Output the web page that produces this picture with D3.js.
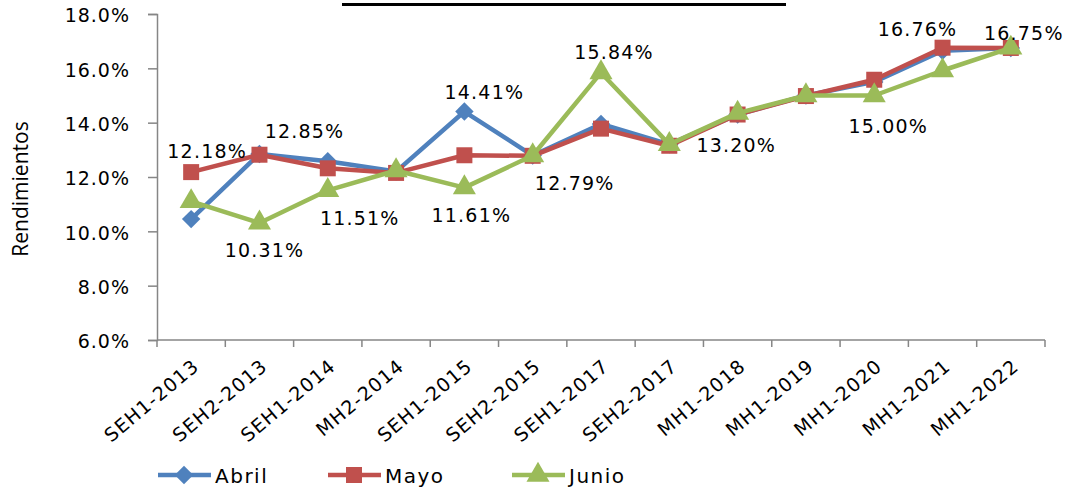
<!DOCTYPE html>
<html>
<head>
<meta charset="utf-8">
<script src="https://cdn.jsdelivr.net/npm/d3@7"></script>
<style>
  body { margin: 0; background: #fff; }
  text { font-family: "DejaVu Sans", Verdana, sans-serif; fill: #000; }
</style>
</head>
<body>
<div id="chart"></div>
<script>
// categories and series
var categories = ["SEH1-2013", "SEH2-2013", "SEH1-2014", "MH2-2014", "SEH1-2015", "SEH2-2015",
    "SEH1-2017", "SEH2-2017", "MH1-2018", "MH1-2019", "MH1-2020", "MH1-2021", "MH1-2022"];
var abril = [10.45, 12.85, 12.58, 12.2, 14.41, 12.79, 13.95, 13.2, 14.3, 15.0, 15.5, 16.65, 16.75];
var mayo  = [12.18, 12.82, 12.32, 12.15, 12.8, 12.78, 13.78, 13.15, 14.3, 14.98, 15.58, 16.76, 16.75];
var junio = [11.1, 10.31, 11.51, 12.24, 11.61, 12.79, 15.84, 13.2, 14.35, 15.0, 15.0, 15.92, 16.75];
var seriesNames = ["Abril", "Mayo", "Junio"];
var yTicks = [6, 8, 10, 12, 14, 16, 18];

// data labels: [series, category index]
var labelPoints = [[1, 0], [0, 1], [2, 1], [2, 2], [2, 4], [0, 4], [2, 5], [2, 6], [2, 7], [2, 10], [1, 11], [2, 12]];
// label offsets from the point (dx, dy)
var labelOffsets = [[16, -21], [45, -23], [5, 27], [32, 27], [7, 27], [20, -20], [42, 27], [13, -21], [67, 0], [14, 30], [-25, -19], [13, -15]];

var colors = ["#4F81BD", "#C0504D", "#9BBB59"];
var seriesData = [abril, mayo, junio];

var width = 1068, height = 490;
var margin = { top: 14, right: 23, bottom: 150, left: 157 };
var w = width - margin.left - margin.right,
    h = height - margin.top - margin.bottom;

var svg = d3.select("#chart").append("svg")
    .attr("width", width)
    .attr("height", height);

// title underline (title text itself is cut off above the picture)
svg.append("rect")
    .attr("x", 342).attr("y", 3)
    .attr("width", 444).attr("height", 3)
    .attr("fill", "#000");

var g = svg.append("g")
    .attr("transform", `translate(${margin.left}, ${margin.top})`);

var x = d3.scaleBand().domain(categories).range([0, w]);
var y = d3.scaleLinear().domain([6, 18]).range([h, 0]);

// y axis
var yAxis = g.append("g")
    .call(d3.axisLeft(y).tickValues(yTicks).tickSize(9).tickPadding(18)
        .tickFormat(function (d) { return d.toFixed(1) + "%"; }));
yAxis.select(".domain").attr("stroke", "#868686").attr("stroke-width", 1.5);
yAxis.selectAll(".tick line").attr("stroke", "#868686").attr("stroke-width", 1.5);
yAxis.selectAll(".tick text")
    .attr("dy", "0.42em")
    .style("font-size", "19px").style("letter-spacing", "1px")
    .style("font-family", "DejaVu Sans");

// x axis with ticks at band edges
var xAxis = g.append("g").attr("transform", "translate(0," + h + ")");
xAxis.append("line")
    .attr("x1", 0).attr("x2", w)
    .attr("stroke", "#868686").attr("stroke-width", 1.5);
xAxis.selectAll(".xtick")
    .data(d3.range(categories.length + 1))
    .enter().append("line")
    .attr("x1", function (i) { return i * x.step(); })
    .attr("x2", function (i) { return i * x.step(); })
    .attr("y1", 0).attr("y2", 7)
    .attr("stroke", "#868686").attr("stroke-width", 1.5);
xAxis.selectAll(".xlabel")
    .data(categories)
    .enter().append("text")
    .attr("transform", function (d) {
        return "translate(" + (x(d) + x.bandwidth() / 2 + 5) + ",23) rotate(-40)";
    })
    .attr("text-anchor", "end")
    .attr("dy", "0.35em")
    .style("font-size", "19px")
    .style("letter-spacing", "1.2px")
    .text(function (d) { return d; });

// y axis title
svg.append("text")
    .attr("transform", "translate(28,189) rotate(-90)")
    .attr("text-anchor", "middle")
    .style("font-family", "Open Sans")
    .style("font-size", "21px")
    .text("Rendimientos");

var line = d3.line()
    .x(function (d, i) { return x(categories[i]) + x.bandwidth() / 2; })
    .y(function (d) { return y(d); });

// marker shapes: diamond is a rotated square
var symbols = [
    d3.symbol().type(d3.symbolSquare).size(170),
    d3.symbol().type(d3.symbolSquare).size(256),
    d3.symbol().type(d3.symbolTriangle).size(230)
];
var symbolRotate = [45, 0, 0];

seriesData.forEach(function (vals, s) {
    g.append("path")
        .datum(vals)
        .attr("fill", "none")
        .attr("stroke", colors[s])
        .attr("stroke-width", 4.5)
        .attr("stroke-linejoin", "round")
        .attr("d", line);
    g.selectAll(".pt" + s)
        .data(vals)
        .enter().append("path")
        .attr("transform", function (d, i) {
            return "translate(" + (x(categories[i]) + x.bandwidth() / 2) + "," + y(d) + ") rotate(" + symbolRotate[s] + ")";
        })
        .attr("d", symbols[s])
        .attr("fill", colors[s]);
});

// data labels
g.selectAll(".dlabel")
    .data(labelPoints)
    .enter().append("text")
    .attr("x", function (d, i) { return x(categories[d[1]]) + x.bandwidth() / 2 + labelOffsets[i][0]; })
    .attr("y", function (d, i) { return y(seriesData[d[0]][d[1]]) + labelOffsets[i][1]; })
    .attr("text-anchor", "middle")
    .attr("dy", "0.38em")
    .style("font-size", "19px")
    .style("letter-spacing", "1.2px")
    .text(function (d) { return seriesData[d[0]][d[1]].toFixed(2) + "%"; });

// legend
var legendX = [158, 328, 512];
var legend = svg.selectAll(".legend")
    .data(seriesNames)
    .enter().append("g")
    .attr("transform", function (d, i) { return "translate(" + legendX[i] + ",475)"; });
legend.append("line")
    .attr("x1", 0).attr("x2", 53)
    .attr("stroke", function (d, i) { return colors[i]; })
    .attr("stroke-width", 4.5);
legend.append("path")
    .attr("transform", function (d, i) { return "translate(26,0) rotate(" + symbolRotate[i] + ")"; })
    .attr("d", function (d, i) { return symbols[i](); })
    .attr("fill", function (d, i) { return colors[i]; });
legend.append("text")
    .attr("x", 57)
    .attr("dy", "0.38em")
    .style("font-size", "20px")
    .style("letter-spacing", "1.5px")
    .text(function (d) { return d; });
</script>
</body>
</html>
